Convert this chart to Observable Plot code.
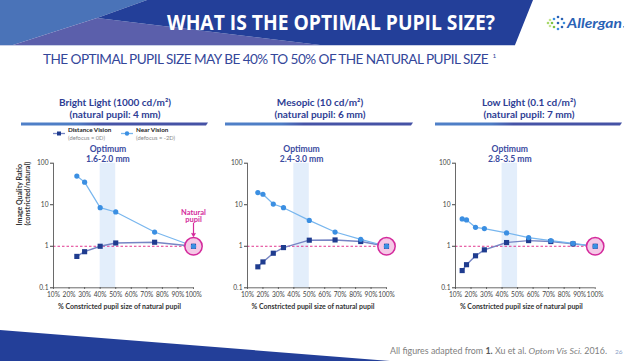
<!DOCTYPE html>
<html><head><meta charset="utf-8">
<script src="https://cdn.jsdelivr.net/npm/d3@7"></script>
<script src="https://cdn.jsdelivr.net/npm/@observablehq/plot@0.6"></script>
<style>
html,body{margin:0;padding:0;background:#fff;}
#slide{position:relative;width:640px;height:361px;overflow:hidden;font-family:"Lato",sans-serif;}
#slide svg{position:absolute;}
</style></head><body><div id="slide"></div>
<script>
// ---------- text ----------
const slideTitle = "WHAT IS THE OPTIMAL PUPIL SIZE?";
const slideSubtitle = "THE OPTIMAL PUPIL SIZE MAY BE 40% TO 50% OF THE NATURAL PUPIL SIZE";
const subtitleRef = "1";
const panelTitles = ["Bright Light (1000 cd/m²)", "Mesopic (10 cd/m²)", "Low Light (0.1 cd/m²)"];
const panelSubtitles = ["(natural pupil: 4 mm)", "(natural pupil: 6 mm)", "(natural pupil: 7 mm)"];
const optimumLabels = ["1.6-2.0 mm", "2.4-3.0 mm", "2.8-3.5 mm"];
const optimumRange = [40, 50];
const seriesNames = ["Distance Vision", "Near Vision"];
const seriesNotes = ["(defocus = 0D)", "(defocus = -2D)"];
const xLabel = "% Constricted pupil size of natural pupil";
const yLabel = "Image Quality Ratio\n(constricted/natural)";
const naturalLabel = "Natural\npupil";

// ---------- data ----------
const brightPct = [25, 30, 40, 50, 75, 100];
const brightDistance = [0.57, 0.74, 1.0, 1.2, 1.25, 1.0];
const brightNear = [49, 35, 8.5, 6.7, 2.2, 1.0];

const mesopicPct = [16.7, 20, 26.7, 33.3, 50, 66.7, 83.3, 100];
const mesopicDistance = [0.32, 0.42, 0.68, 0.93, 1.4, 1.42, 1.3, 1.0];
const mesopicNear = [19.6, 17.9, 10.4, 8.5, 4.2, 2.2, 1.47, 1.0];

const lowPct = [14.3, 17.1, 22.9, 28.6, 42.9, 57.1, 71.4, 85.7, 100];
const lowDistance = [0.26, 0.36, 0.59, 0.82, 1.23, 1.37, 1.3, 1.14, 1.0];
const lowNear = [4.55, 4.3, 2.86, 2.66, 2.1, 1.62, 1.37, 1.18, 1.0];

const xTicks = [10, 20, 30, 40, 50, 60, 70, 80, 90, 100];
const xTickLabels = ["10%", "20%", "30%", "40%", "50%", "60%", "70%", "80%", "90%", "100%"];
const yTicks = [0.1, 1, 10, 100];
const yTickLabels = ["0.1", "1", "10", "100"];

// ---------- styles ----------
const C = {
  dark: "#233f99", light: "#4a73b8", purple: "#5b5fab",
  title: "#2e3d94", distLine: "#7685c4", distMark: "#1f3c8f",
  nearLine: "#78b6ee", nearMark: "#3b8fe2", band: "#e3eefb",
  magenta: "#d42a9c", pink: "#f5c8e6", axis: "#444"
};
const FONT = "Lato, 'Open Sans', sans-serif";

const slide = document.getElementById("slide");

// ---------- decorative overlay (header, titles, legend, footer) ----------
const ov = d3.create("svg").attr("width", 640).attr("height", 361)
  .style("left", "0px").style("top", "0px").attr("font-family", FONT);
slide.appendChild(ov.node());

// fit a text element to a target width by adjusting letter-spacing (keeps real glyph bbox)
function fitWidth(sel, target) {
  const n = sel.text().length;
  const w = sel.node().getComputedTextLength();
  if (n > 1) sel.attr("letter-spacing", ((target - w) / n).toFixed(3));
  return sel;
}

const defs = ov.append("defs");
const grad = defs.append("linearGradient").attr("id", "barg");
grad.append("stop").attr("offset", "0%").attr("stop-color", "#4f80c8");
grad.append("stop").attr("offset", "30%").attr("stop-color", "#4d7cc4");
grad.append("stop").attr("offset", "42%").attr("stop-color", "#4654a7");
grad.append("stop").attr("offset", "100%").attr("stop-color", "#4552a5");

ov.append("polygon").attr("points", "0,0 147,0 97,18 13,45 0,45").attr("fill", C.light);
ov.append("polygon").attr("points", "13,45 97,18 320,45").attr("fill", C.purple);
ov.append("polygon").attr("points", "147,0 533,0 515,45 320,45 97,18").attr("fill", C.dark);
ov.append("line").attr("x1", 0).attr("x2", 515).attr("y1", 45.5).attr("y2", 45.5)
  .attr("stroke", "#c8cfe6").attr("stroke-width", 1);

ov.append("text").attr("x", 331).attr("y", 30).attr("text-anchor", "middle")
  .attr("font-family", "'Open Sans', sans-serif").attr("font-weight", 700).attr("font-size", 21)
  .attr("fill", "#fff").attr("textLength", 328).attr("lengthAdjust", "spacingAndGlyphs")
  .text(slideTitle);

const subSel = ov.append("text").attr("x", 43).attr("y", 64).attr("font-size", 13.6)
  .attr("fill", "#34479a").text(slideSubtitle);
fitWidth(subSel, 445);
ov.append("text").attr("x", 492.5).attr("y", 57.5).attr("font-size", 6.5)
  .attr("fill", "#34479a").text(subtitleRef);

// logo
const logoDots = [[558,17,"#2a62b5"],[562,19,"#2a62b5"],[564,23,"#3a8ee0"],[562,27,"#2a62b5"],[558,29,"#3a8ee0"],[554,27,"#7cc242"],[552,23,"#7cc242"],[554,19,"#3a8ee0"],[548,23,"#a8d86a"],[550,20,"#c4e48e"],[550,26,"#c4e48e"],[558,23,"#2a62b5"]];
logoDots.forEach(([x,y,c]) => ov.append("circle").attr("cx", x).attr("cy", y).attr("r", 1.3).attr("fill", c));
ov.append("text").attr("x", 567).attr("y", 27.5).attr("font-size", 12.5).attr("font-weight", 700)
  .attr("font-style", "italic").attr("fill", "#2a62b5").attr("textLength", 55)
  .attr("lengthAdjust", "spacingAndGlyphs").text("Allergan");
ov.append("circle").attr("cx", 623.5).attr("cy", 26.8).attr("r", 0.6).attr("fill", "#2a62b5");

// panel titles & bars
const titleX = [115, 320, 529];
const barX = [[21, 208], [225, 413], [435, 622]];
panelTitles.forEach((t, i) => {
  ov.append("text").attr("x", titleX[i]).attr("y", 106).attr("text-anchor", "middle")
    .attr("font-size", 10).attr("font-weight", 700).attr("fill", C.title).text(t);
  ov.append("text").attr("x", titleX[i]).attr("y", 117.5).attr("text-anchor", "middle")
    .attr("font-size", 10).attr("font-weight", 700).attr("fill", C.title).text(panelSubtitles[i]);
  const [a, b] = barX[i];
  ov.append("polygon").attr("points", `${a},122.5 ${b},122.5 ${b-2},125.5 ${a},125.5`).attr("fill", "url(#barg)");
});

// legend (panel 1)
const legX = [53, 121];
seriesNames.forEach((s, i) => {
  const x = legX[i];
  ov.append("line").attr("x1", x).attr("x2", x + 12).attr("y1", 133.5).attr("y2", 133.5)
    .attr("stroke", i === 0 ? C.distLine : C.nearLine).attr("stroke-width", 1.3);
  if (i === 0) ov.append("rect").attr("x", x + 4).attr("y", 131.5).attr("width", 4).attr("height", 4).attr("fill", C.distMark);
  else ov.append("circle").attr("cx", x + 6).attr("cy", 133.5).attr("r", 2.2).attr("fill", C.nearMark);
  ov.append("text").attr("x", x + 15).attr("y", 131.5).attr("font-size", 6.3).attr("font-weight", 700)
    .attr("fill", "#222").text(s);
  ov.append("text").attr("x", x + 15).attr("y", 139.5).attr("font-size", 5.8)
    .attr("fill", "#888").text(seriesNotes[i]);
});

// footer
ov.append("polygon").attr("points", "0,330 390,361 0,361").attr("fill", C.dark);
const foot = ov.append("text").attr("x", 390).attr("y", 354).attr("font-size", 8.5).attr("fill", "#808080")
  .attr("textLength", 217).attr("lengthAdjust", "spacingAndGlyphs");
foot.append("tspan").text("All figures adapted from ");
foot.append("tspan").attr("font-weight", 700).attr("fill", "#555").text("1.");
foot.append("tspan").text(" Xu et al. ");
foot.append("tspan").attr("font-style", "italic").text("Optom Vis Sci.");
foot.append("tspan").text(" 2016.");
ov.append("text").attr("x", 615).attr("y", 353.5).attr("font-size", 6.5).attr("fill", "#8aa0c8").text("26");

// ---------- charts ----------
function panel(cfg) {
  const rows = cfg.pct.map((p, i) => ({p, dist: cfg.dist[i], near: cfg.near[i]}));
  const last = rows[rows.length - 1];
  const bandX = (optimumRange[0] + optimumRange[1]) / 2;
  const yTop = yTicks[yTicks.length - 1];
  const marks = [
    Plot.rect([{x1: optimumRange[0], x2: optimumRange[1], y1: yTicks[0], y2: yTop}],
      {x1: "x1", x2: "x2", y1: "y1", y2: "y2", fill: C.band}),
    Plot.text([{x: bandX, y: yTop}],
      {x: "x", y: "y", text: () => cfg.optimum, lineAnchor: "bottom", dy: -1.5,
       fontWeight: "bold", fontSize: 8.6, fill: "#3a4aa0"}),
    Plot.text([{x: bandX, y: yTop}],
      {x: "x", y: "y", text: () => "Optimum", lineAnchor: "bottom", dy: -11,
       fontWeight: "bold", fontSize: 8.6, fill: "#3a4aa0"}),
    Plot.ruleY([1], {x1: xTicks[0], x2: xTicks[xTicks.length - 1], stroke: "#e2378f",
      strokeDasharray: "2.5,2", strokeWidth: 1}),
    Plot.ruleX([xTicks[0]], {y1: yTicks[0], y2: yTop, stroke: C.axis, strokeWidth: 0.8}),
    Plot.ruleY([yTicks[0]], {x1: xTicks[0], x2: xTicks[xTicks.length - 1], stroke: C.axis, strokeWidth: 0.8}),
    Plot.axisY({ticks: yTicks, tickFormat: d => yTickLabels[yTicks.indexOf(d)], tickSize: 3, tickPadding: 2,
      label: null, fontSize: 6.6}),
    Plot.axisX({ticks: xTicks, tickFormat: d => xTickLabels[xTicks.indexOf(d)], tickSize: 1.5, tickPadding: 3,
      label: null, fontSize: 6.6}),
    Plot.text([xLabel], {frameAnchor: "bottom", text: d => d, dy: 21, dx: -4, fontWeight: "bold",
      fontSize: 7, fill: "#333"}),
    Plot.line(rows, {x: "p", y: "dist", stroke: C.distLine, strokeWidth: 1.4}),
    Plot.line(rows, {x: "p", y: "near", stroke: C.nearLine, strokeWidth: 1.2}),
    Plot.dot([last], {x: "p", y: "dist", r: 8.7, stroke: C.magenta, strokeWidth: 1.5, fill: C.pink}),
    Plot.dot(rows, {x: "p", y: "dist", symbol: "square", r: 2.9, fill: C.distMark}),
    Plot.dot(rows, {x: "p", y: "near", r: 2.6, fill: C.nearMark})
  ];
  if (cfg.showYLabel) {
    marks.push(Plot.text([yLabel], {frameAnchor: "left", text: d => d, rotate: -90, dx: -30,
      fontWeight: "bold", fontSize: 7, fill: "#333", lineHeight: 1.2}));
  }
  if (cfg.showNatural) {
    marks.push(Plot.text([last], {x: "p", y: () => 3.75, text: () => naturalLabel, lineAnchor: "bottom",
      fill: C.magenta, fontWeight: "bold", fontSize: 7.5, lineHeight: 1.05}));
    marks.push(Plot.arrow([last], {x1: "p", x2: "p", y1: () => 3.6, y2: () => 1.75,
      stroke: C.magenta, strokeWidth: 1.2, headLength: 4}));
  }
  const svg = Plot.plot({
    width: cfg.width, height: 180,
    marginLeft: cfg.ml, marginRight: cfg.mr, marginTop: 22.7, marginBottom: 32.7,
    x: {type: "linear", domain: [xTicks[0], xTicks[xTicks.length - 1]]},
    y: {type: "log", domain: [yTicks[0], yTop]},
    style: {background: "transparent", fontFamily: FONT, fontSize: "6.6px", color: C.axis, overflow: "visible"},
    marks
  });
  svg.style.left = cfg.left + "px";
  svg.style.top = "140px";
  slide.appendChild(svg);
}

panel({pct: brightPct, dist: brightDistance, near: brightNear, optimum: optimumLabels[0],
  left: 0, width: 215, ml: 53, mr: 22, showYLabel: true, showNatural: true});
panel({pct: mesopicPct, dist: mesopicDistance, near: mesopicNear, optimum: optimumLabels[1],
  left: 200, width: 210, ml: 47, mr: 24});
panel({pct: lowPct, dist: lowDistance, near: lowNear, optimum: optimumLabels[2],
  left: 405, width: 215, ml: 50, mr: 25.3});
</script>
</body></html>
